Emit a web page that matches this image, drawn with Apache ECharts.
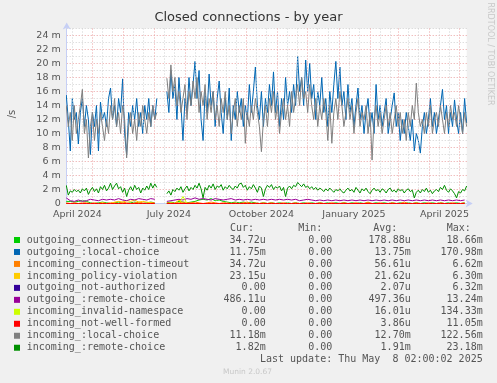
<!DOCTYPE html>
<html><head><meta charset="utf-8">
<script src="https://cdn.jsdelivr.net/npm/echarts@6/dist/echarts.min.js"></script>
<style>html,body{margin:0;padding:0;background:#f0f0f0}#c{width:497px;height:383px}</style>
</head><body><div id="c"></div>
<script>
// ---- data (values in milli-units /s) ----
// dense series: one value every 2 days from 2024-04-05
const denseStart = '2024-04-05';
const denseStep = 2;
const outgoingLocal = [15.5,12,7.5,15,12,13,8.5,13,15,11,14,12,7,13,11,14,7.5,14.5,12,13,11,15,16.5,12,14,11,15,13,17.8,10,7,13,11,14,12,15,11,13,10,14,12,15,11,14,12,15,null,null,null,null,
16,13,19,15,17,12,18,14,9,15,13,18,14,17,20.3,15,19,12,9,16,13,18.5,14,16,11,15,17.5,13,10,15,12,16.5,9,14,12,16,13,15,11,14,12,17,13,16,19.5,14,12,16,11,15,
13,17,14,18.8,13,16,11,15,12,18,14,16,13,17,14,21,16,18,14,20.5,16,20,15,17,12,16,14,18,13,15,11,16,13,17,20.3,15,19.5,14,16,12,17,13,15,11,14,16.5,12,14,10,13,
15,11,13,10,17,12,14,11,13,15,10,12,14,15.8,11,13,9,12,10,13,11,9,12,7.5,10,9,7.2,11,13,10,12,15,11,13,10,12,14,16.3,12,14,10,13,11,14.8,12,10,13,10,15,11.5];
const incomingLocal = [14,11,13,9,14,10,12,14,16.3,10,12,6.5,11,13,9,12,10,13,11,9,12,10,14,12,15,11,13,10,14,12,6.5,11,13,10,12,9,13,11,14,12,10,13,11,14,12,13,null,null,null,null,
17.9,15,19.8,16,18,14,16,13,15,17,12,16,14,17.5,15,18,13,16,14,17,12,15,13,16,12,14,11,15,13,16,12,14,10,13,15,11,14,12,15,8.6,13,11,14,12,15,13,11,7.4,12,14,
11,15,13,16,12,14,10,13,15,12,14,11,16,13,15,17,14,18,15,16,13,17,14,12,15,11,14,12,15,13,9,14,8.6,13,15,12,16,14,11,13,15,12,14,10,13,15,11,13,12,14,
10,13,6.2,12,14,11,13,10,12,14,11,13,10,12,14,11,13,10,12,9,13,11,14,12,17.2,13,11,12,10,13,11,14,10,12,13,11,14,12,10,13,11,14,12,13,11,14,12,10,13,11];
const incomingRemote = [2.6,1.2,1.8,1.6,2.0,1.7,1.9,1.5,2.1,1.8,2.2,1.3,1.9,2.3,1.7,2.1,1.5,2.4,2.0,2.6,1.8,2.2,2.9,2.0,2.5,2.9,2.1,2.4,1.6,2.2,1.0,1.9,2.4,1.8,2.6,2.0,2.3,1.5,2.2,1.9,2.5,2.0,2.9,2.2,2.8,2.3,null,null,null,null,
1.4,1.8,1.2,2.0,1.7,2.2,1.9,2.4,1.6,2.1,2.5,1.8,2.3,2.0,2.6,2.2,2.9,2.1,0.8,2.3,1.9,2.6,2.2,2.8,2.0,2.5,2.3,2.7,1.9,2.4,2.1,2.6,2.2,2.0,2.5,2.2,2.8,2.9,2.3,2.6,1.9,2.4,2.1,2.7,2.2,1.6,2.5,2.2,1.0,2.1,
2.6,2.3,2.7,2.0,2.4,2.2,2.5,1.8,2.3,1.0,2.2,2.5,2.1,2.6,2.4,3.0,2.7,2.4,2.8,2.3,2.5,2.1,2.4,2.0,2.3,1.9,2.2,2.0,1.7,2.1,1.8,2.2,1.9,1.6,2.0,1.8,2.1,1.7,1.5,1.9,2.2,1.8,2.0,1.6,2.3,1.9,1.5,2.1,1.8,2.2,
1.7,1.4,1.9,2.2,1.8,2.0,1.6,2.1,1.9,1.5,2.0,2.2,1.7,1.9,1.6,2.1,1.8,2.0,1.5,1.9,2.1,1.7,1.9,0.8,1.6,1.9,1.5,2.0,1.7,2.2,1.6,1.9,1.4,1.8,2.0,1.7,2.3,2.0,2.6,1.9,1.6,2.1,1.8,1.4,0.8,1.7,1.5,2.0,1.8,2.5];
// sparse series: one value every 4 days from 2024-04-05
const sparseStart = '2024-04-05';
const sparseStep = 4;
const outgoingRemote = [0.8,0.4,0.3,0.5,0.3,0.4,0.6,0.5,0.4,0.6,0.5,0.6,0.5,0.7,0.5,0.4,0.6,0.5,0.7,0.6,0.5,0.7,0.6,null,null,0.3,0.4,0.5,0.6,0.5,0.7,0.6,0.8,0.6,0.7,0.6,0.5,0.7,0.6,0.5,0.6,0.7,0.5,0.6,0.5,0.6,0.5,0.6,0.5,0.6,0.5,0.6,0.5,0.6,0.5,0.6,0.5,0.6,0.4,0.5,0.6,0.5,0.4,0.5,0.4,0.5,0.4,0.5,0.4,0.5,0.4,0.5,0.4,0.5,0.4,0.5,0.4,0.5,0.4,0.5,0.4,0.5,0.4,0.5,0.4,0.5,0.4,0.5,0.4,0.5,0.4,0.5,0.4,0.5,0.4,0.5,0.4,0.5,0.4,0.5];
const outgoingTimeout = [0.3,0.3,0.2,0.3,0.4,0.3,0.1,0.0,0.1,0.2,0.1,0.0,0.1,0.2,0.1,0.0,0.1,0.2,0.1,0.0,0.1,0.2,0.1,null,null,0.1,0.2,0.1,0.3,0.2,0.1,0.2,0.3,0.5,0.6,0.5,0.7,0.4,0.5,0.3,0.2,0.1,0.2,0.1,0.2,0.1,0.2,0.1,0.0,0.1,0.0,0.1,0.0,0.1,0.0,0.1,0.0,0.1,0.0,0.1,0.0,0.1,0.0,0.1,0.0,0.1,0.0,0.1,0.0,0.1,0.0,0.1,0.0,0.1,0.0,0.1,0.0,0.1,0.0,0.1,0.0,0.1,0.0,0.1,0.0,0.1,0.0,0.1,0.0,0.1,0.0,0.1,0.0,0.1,0.0,0.1,0.0,0.1,0.0,0.1];
const incomingTimeout = [0.1,0.0,0.1,0.0,0.1,0.1,0.0,0.1,0.0,0.1,0.0,0.1,0.1,0.0,0.2,0.1,0.0,0.1,0.2,0.1,0.0,0.1,0.1,null,null,0.1,0.0,0.1,0.1,0.2,0.1,0.1,0.2,0.1,0.0,0.1,0.2,0.1,0.0,0.1,0.1,0.0,0.1,0.0,0.1,0.2,0.0,0.1,0.0,0.1,0.0,0.1,0.0,0.0,0.1,0.0,0.0,0.1,0.0,0.0,0.1,0.0,0.0,0.1,0.0,0.0,0.1,0.0,0.0,0.1,0.0,0.0,0.1,0.0,0.0,0.2,0.0,0.0,0.1,0.0,0.0,0.1,0.0,0.0,0.2,0.0,0.0,0.1,0.0,0.0,0.1,0.0,0.0,0.1,0.0,0.0,0.1,0.0,0.0,0.1];
const incomingPolicy = [0,0,0,0,0,0,0,0,0,0.1,0,0,0.2,0.3,0.2,0.4,0.3,0.5,0.2,0.3,0.2,0.1,0,null,null,0,0.1,0,0.5,0,0,0,0,0,0,0,0,0,0,0,0,0,0,0,0,0,0,0,0,0,0,0,0,0,0,0,0,0,0,0,0,0,0,0,0,0,0,0,0,0,0,0,0,0,0,0,0,0,0,0,0,0,0,0,0,0,0,0,0,0,0,0,0,0,0,0,0,0,0,0];
const outgoingNotAuth = [0,0,0,0,0,0,0,0,0,0,0,0,0,0,0,0,0,0,0,0,0,0,0,null,null,0,0,0,0,0,0,0,0,0,0,0,0,0,0,0,0,0,0,0,0,0,0,0,0,0,0,0,0,0,0,0,0,0,0,0,0,0,0,0,0,0,0,0,0,0,0,0,0,0,0,0,0,0,0,0,0,0,0,0,0,0,0,0,0,0,0,0,0,0,0,0,0,0,0,0];
const incomingInvalidNs = [0,0,0,0,0,0,0,0,0,0,0,0,0,0,0,0,0,0,0,0,0,0,0,null,null,0,0,0,0,1.0,0,0,0,0,0,0,0,0,0,0,0,0,0,0,0,0,0,0,0,0,0,0,0,0,0,0,0,0,0,0,0,0,0,0,0,0,0,0,0,0,0,0,0,0,0,0,0,0,0,0,0,0,0,0,0,0,0,0,0,0,0,0,0,0,0,0,0,0,0,0];
const incomingNotWellFormed = [0,0,0,0,0,0,0,0,0,0,0,0,0,0,0,0,0,0,0,0,0,0,0,null,null,0,0,0,0,0,0,0,0,0,0,0,0,0,0,0,0,0,0,0,0,0,0,0,0,0,0,0,0,0,0,0,0,0,0,0,0,0,0,0,0,0,0,0,0,0,0,0,0,0,0,0,0,0,0,0,0,0,0,0,0,0,0,0,0,0,0,0,0,0,0,0,0,0,0,0];

const names = ['outgoing_connection-timeout','outgoing_:local-choice','incoming_connection-timeout','incoming_policy-violation','outgoing_not-authorized','outgoing_:remote-choice','incoming_invalid-namespace','incoming_not-well-formed','incoming_:local-choice','incoming_:remote-choice'];
const colors = ['#00cc00','#0066b3','#ff8000','#ffcc00','#330099','#990099','#ccff00','#ff0000','#808080','#008f00'];
const seriesValues = [outgoingTimeout,outgoingLocal,incomingTimeout,incomingPolicy,outgoingNotAuth,outgoingRemote,incomingInvalidNs,incomingNotWellFormed,incomingLocal,incomingRemote];
const seriesDense = [false,true,false,false,false,false,false,false,true,true];
const curVals = ['34.72u','11.75m','34.72u','23.15u','0.00','486.11u','0.00','0.00','11.18m','1.82m'];
const minVals = ['0.00','0.00','0.00','0.00','0.00','0.00','0.00','0.00','0.00','0.00'];
const avgVals = ['178.88u','13.75m','56.61u','21.62u','2.07u','497.36u','16.01u','3.86u','12.70m','1.91m'];
const maxVals = ['18.66m','170.98m','6.62m','6.30m','6.32m','13.24m','134.33m','11.05m','122.56m','23.18m'];

const monthStarts = ['2024-05-01','2024-06-01','2024-07-01','2024-08-01','2024-09-01','2024-10-01','2024-11-01','2024-12-01','2025-01-01','2025-02-01','2025-03-01','2025-04-01','2025-05-01'];
const xLabelDates = ['2024-04-16','2024-07-16','2024-10-16','2025-01-16','2025-04-16'];
const xLabelTexts = ['April 2024','July 2024','October 2024','January 2025','April 2025'];
const yMax = 25;

// ---- build (x = days since 2024-04-01 UTC) ----
const DAY = 86400000;
const epoch = Date.parse('2024-04-01T00:00:00Z');
const dayOf = s => (Date.parse(s) - epoch) / DAY;
const dDense = dayOf(denseStart + 'T00:00:00Z');
const dSparse = dayOf(sparseStart + 'T00:00:00Z');
const toPairs = (arr, dense) => arr.map((v, i) => [dense ? dDense + i * denseStep : dSparse + i * sparseStep, v]);
const xMin = dayOf('2024-04-05T10:00:00Z');
const xMax = dayOf('2025-05-08T02:00:00Z');
const majorLines = monthStarts.map(d => dayOf(d + 'T00:00:00Z'));
const minorLines = [];
['2024-04','2024-05','2024-06','2024-07','2024-08','2024-09','2024-10','2024-11','2024-12','2025-01','2025-02','2025-03','2025-04','2025-05'].forEach(m => {
  ['11','21'].forEach(d => { const t = dayOf(m + '-' + d + 'T00:00:00Z'); if (t > xMin && t < xMax) minorLines.push(t); });
});
const labelDays = xLabelDates.map(d => dayOf(d + 'T00:00:00Z'));

const chart = echarts.init(document.getElementById('c'), null, {renderer: 'canvas'});
const FONT = 'DejaVu Sans';
const MONO = 'DejaVu Sans Mono';

const series = [{
  type: 'line', data: [], silent: true, z: 1,
  markLine: {
    silent: true, symbol: 'none', label: {show: false}, animation: false,
    data: minorLines.map(t => ({xAxis: t, lineStyle: {color: '#d0d0d0', type: [1, 2], width: 1}}))
      .concat(majorLines.map(t => ({xAxis: t, lineStyle: {color: '#eaa0a0', type: [1, 2], width: 1}})))
  }
}];
seriesValues.forEach((arr, i) => {
  series.push({
    name: names[i], type: 'line', data: toPairs(arr, seriesDense[i]), showSymbol: false, symbol: 'none',
    connectNulls: false, z: 2 + i, animation: false,
    lineStyle: {color: colors[i], width: 1}
  });
});

const graphics = [];
graphics.push({type: 'text', left: 'center', top: 11, style: {text: 'Closed connections - by year', font: '13px "' + FONT + '"', fill: '#333'}});
graphics.push({type: 'text', x: 12, y: 114, rotation: Math.PI / 2, style: {text: '/s', font: '10px "' + FONT + '"', fill: '#555', align: 'center', verticalAlign: 'middle'}});
graphics.push({type: 'text', x: 490, y: 54, rotation: -Math.PI / 2, style: {text: 'RRDTOOL / TOBI OETIKER', font: '8px "' + FONT + '"', fill: '#c8c8c8', align: 'center', verticalAlign: 'middle'}});
const headers = [['Cur:', 230], ['Min:', 298.3], ['Avg:', 373.3], ['Max:', 446.7]];
headers.forEach(h => graphics.push({type: 'text', x: h[1], y: 228.3, style: {text: h[0], font: '10px "' + MONO + '"', fill: '#555', verticalAlign: 'middle'}}));
const rowY0 = 240, rowDy = 11.97;
names.forEach((n, i) => {
  const y = rowY0 + i * rowDy;
  graphics.push({type: 'rect', shape: {x: 14, y: y - 3, width: 6, height: 6}, style: {fill: colors[i]}});
  graphics.push({type: 'text', x: 26.7, y: y, style: {text: n, font: '10px "' + MONO + '"', fill: '#555', verticalAlign: 'middle'}});
  [[curVals, 265.7], [minVals, 332.3], [avgVals, 410.7], [maxVals, 482.7]].forEach(c => {
    graphics.push({type: 'text', x: c[1], y: y, style: {text: c[0][i], font: '10px "' + MONO + '"', fill: '#555', align: 'right', verticalAlign: 'middle'}});
  });
});
graphics.push({type: 'text', x: 482.7, y: 359.7, style: {text: 'Last update: Thu May  8 02:00:02 2025', font: '10px "' + MONO + '"', fill: '#555', align: 'right', verticalAlign: 'middle'}});
graphics.push({type: 'text', x: 247.5, y: 371.7, style: {text: 'Munin 2.0.67', font: '7.5px "' + FONT + '"', fill: '#c8c8c8', align: 'center', verticalAlign: 'middle'}});

chart.setOption({
  backgroundColor: '#f0f0f0',
  animation: false,
  grid: {left: 66.7, top: 28.5, width: 400, height: 175, show: true, backgroundColor: '#ffffff', borderWidth: 0},
  xAxis: {
    type: 'value', min: xMin, max: xMax,
    axisLine: {show: true, lineStyle: {color: '#c6cff5', width: 1}, symbol: ['none', 'arrow'], symbolSize: [6, 7], symbolOffset: [0, 6]},
    axisTick: {show: false},
    splitLine: {show: false},
    axisLabel: {
      customValues: labelDays,
      formatter: v => { let k = -1; labelDays.forEach((d, j) => { if (Math.abs(d - v) < 1e-6) k = j; }); return k >= 0 ? xLabelTexts[k] : ''; },
      color: '#555', fontFamily: FONT, fontSize: 9.5, margin: 6
    }
  },
  yAxis: {
    type: 'value', min: 0, max: yMax, interval: 1,
    axisLine: {show: true, lineStyle: {color: '#c6cff5', width: 1}, symbol: ['none', 'arrow'], symbolSize: [6, 7], symbolOffset: [0, 6]},
    axisTick: {show: false},
    splitLine: {show: true, lineStyle: {color: ['#eaa0a0', '#d0d0d0'], type: [1, 2], width: 1}},
    axisLabel: {
      formatter: v => (v % 2 !== 0 || v > 24) ? '' : (v === 0 ? '0' : v + ' m'),
      color: '#555', fontFamily: FONT, fontSize: 9.5, margin: 6
    }
  },
  series: series,
  graphic: graphics
});
</script></body></html>
